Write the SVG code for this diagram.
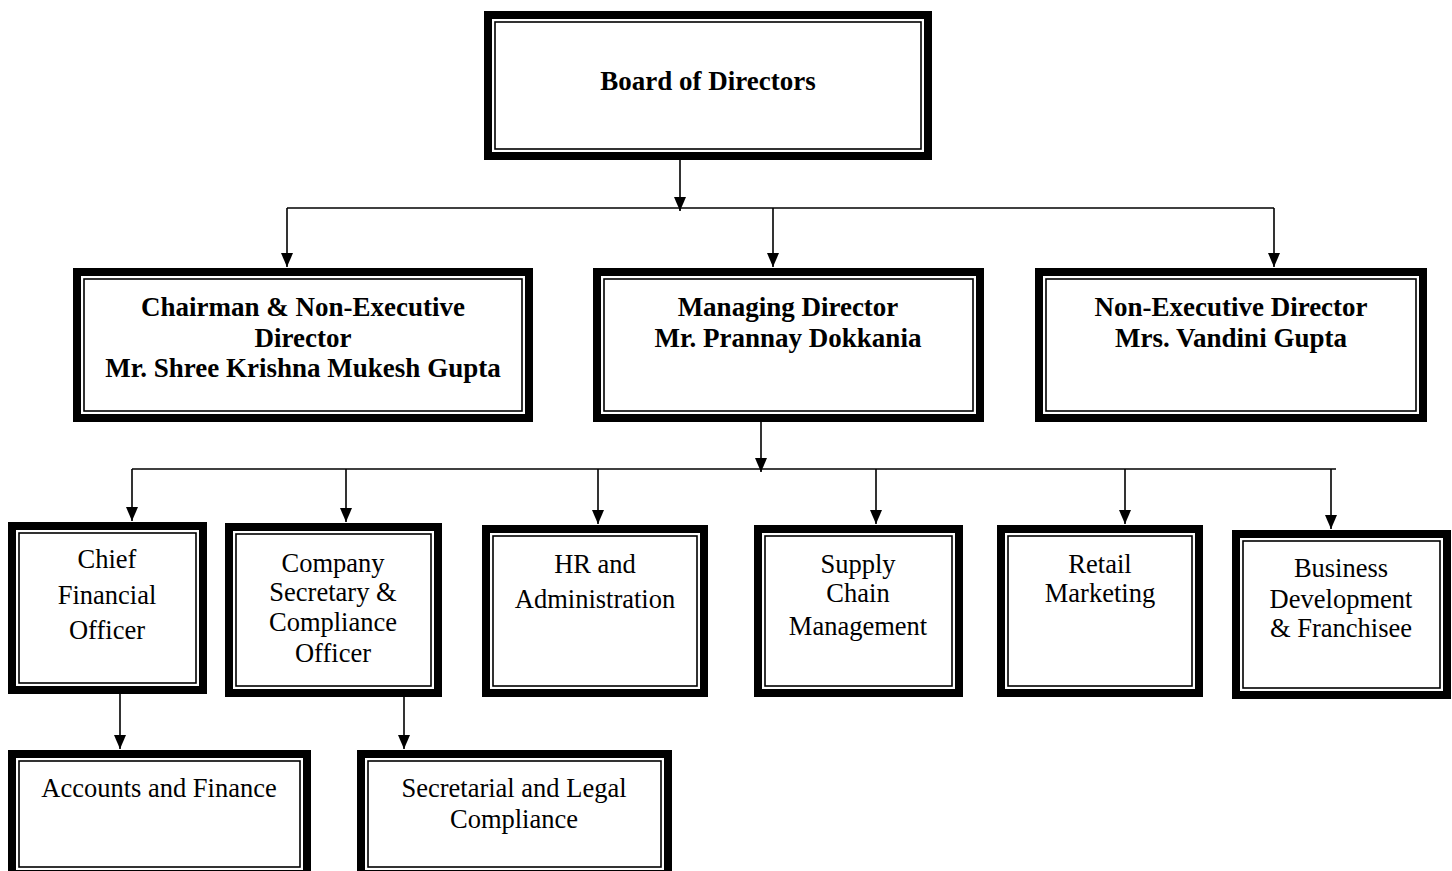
<svg xmlns="http://www.w3.org/2000/svg" width="1452" height="871" viewBox="0 0 1452 871">
<defs>
<marker id="arr" markerWidth="14" markerHeight="12" refX="14" refY="6" orient="auto" markerUnits="userSpaceOnUse" viewBox="0 0 14 12">
<path d="M0,0 L14,6 L0,12 Z" fill="#000"/>
</marker>
<style>
.outer{fill:#fff;stroke:#000;stroke-width:8}
.inner{fill:none;stroke:#000;stroke-width:1.6}
.b{font-family:"Liberation Serif","Times New Roman",serif;font-weight:bold;font-size:27px;fill:#000;text-anchor:middle}
.r{font-family:"Liberation Serif","Times New Roman",serif;font-size:26.5px;fill:#000;text-anchor:middle}
.ln{stroke:#000;stroke-width:1.6;fill:none}
.ar{stroke:#000;stroke-width:1.6;fill:none;marker-end:url(#arr)}
</style>
</defs>
<rect width="1452" height="871" fill="#fff"/>

<g id="connectors">
<line class="ar" x1="680" y1="150" x2="680" y2="211"/>
<line class="ln" x1="287" y1="208" x2="1274" y2="208"/>
<line class="ar" x1="287" y1="208" x2="287" y2="267"/>
<line class="ar" x1="773" y1="208" x2="773" y2="267"/>
<line class="ar" x1="1274" y1="208" x2="1274" y2="267"/>
<line class="ar" x1="761" y1="414" x2="761" y2="472"/>
<line class="ln" x1="132" y1="469" x2="1336" y2="469"/>
<line class="ar" x1="132" y1="469" x2="132" y2="521"/>
<line class="ar" x1="346" y1="469" x2="346" y2="522"/>
<line class="ar" x1="598" y1="469" x2="598" y2="524"/>
<line class="ar" x1="876" y1="469" x2="876" y2="524"/>
<line class="ar" x1="1125" y1="469" x2="1125" y2="524"/>
<line class="ar" x1="1331" y1="469" x2="1331" y2="529"/>
<line class="ar" x1="120" y1="694" x2="120" y2="749"/>
<line class="ar" x1="404" y1="697" x2="404" y2="749"/>
</g>

<g id="board">
<rect class="outer" x="488" y="15" width="440" height="141"/>
<rect class="inner" x="495" y="22" width="426" height="127"/>
<text class="b" x="708" y="90">Board of Directors</text>
</g>

<g id="chairman">
<rect class="outer" x="77" y="272" width="452" height="146"/>
<rect class="inner" x="84" y="279" width="438" height="132"/>
<text class="b" x="303" y="316">Chairman &amp; Non-Executive</text>
<text class="b" x="303" y="347">Director</text>
<text class="b" x="303" y="377">Mr. Shree Krishna Mukesh Gupta</text>
</g>

<g id="managing-director">
<rect class="outer" x="597" y="272" width="383" height="146"/>
<rect class="inner" x="604" y="279" width="369" height="132"/>
<text class="b" x="788" y="316">Managing Director</text>
<text class="b" x="788" y="347">Mr. Prannay Dokkania</text>
</g>

<g id="non-executive-director">
<rect class="outer" x="1039" y="272" width="384" height="146"/>
<rect class="inner" x="1046" y="279" width="370" height="132"/>
<text class="b" x="1231" y="316">Non-Executive Director</text>
<text class="b" x="1231" y="347">Mrs. Vandini Gupta</text>
</g>

<g id="cfo">
<rect class="outer" x="12" y="526" width="191" height="164"/>
<rect class="inner" x="19" y="533" width="177" height="150"/>
<text class="r" x="107" y="568">Chief</text>
<text class="r" x="107" y="604">Financial</text>
<text class="r" x="107" y="639">Officer</text>
</g>

<g id="company-secretary">
<rect class="outer" x="229" y="527" width="209" height="166"/>
<rect class="inner" x="236" y="534" width="195" height="152"/>
<text class="r" x="333" y="572">Company</text>
<text class="r" x="333" y="601">Secretary &amp;</text>
<text class="r" x="333" y="631">Compliance</text>
<text class="r" x="333" y="662">Officer</text>
</g>

<g id="hr">
<rect class="outer" x="486" y="529" width="218" height="164"/>
<rect class="inner" x="493" y="536" width="204" height="150"/>
<text class="r" x="595" y="573">HR and</text>
<text class="r" x="595" y="608">Administration</text>
</g>

<g id="supply-chain">
<rect class="outer" x="758" y="529" width="201" height="164"/>
<rect class="inner" x="765" y="536" width="187" height="150"/>
<text class="r" x="858" y="573">Supply</text>
<text class="r" x="858" y="602">Chain</text>
<text class="r" x="858" y="635">Management</text>
</g>

<g id="retail-marketing">
<rect class="outer" x="1001" y="529" width="198" height="164"/>
<rect class="inner" x="1008" y="536" width="184" height="150"/>
<text class="r" x="1100" y="573">Retail</text>
<text class="r" x="1100" y="602">Marketing</text>
</g>

<g id="business-development">
<rect class="outer" x="1236" y="534" width="211" height="161"/>
<rect class="inner" x="1243" y="541" width="197" height="147"/>
<text class="r" x="1341" y="577">Business</text>
<text class="r" x="1341" y="608">Development</text>
<text class="r" x="1341" y="637">&amp; Franchisee</text>
</g>

<g id="accounts-finance">
<rect class="outer" x="12" y="754" width="295" height="120"/>
<rect class="inner" x="19" y="761" width="281" height="106"/>
<text class="r" x="159" y="797">Accounts and Finance</text>
</g>

<g id="secretarial-legal">
<rect class="outer" x="361" y="754" width="307" height="120"/>
<rect class="inner" x="368" y="761" width="293" height="106"/>
<text class="r" x="514" y="797">Secretarial and Legal</text>
<text class="r" x="514" y="828">Compliance</text>
</g>
</svg>
